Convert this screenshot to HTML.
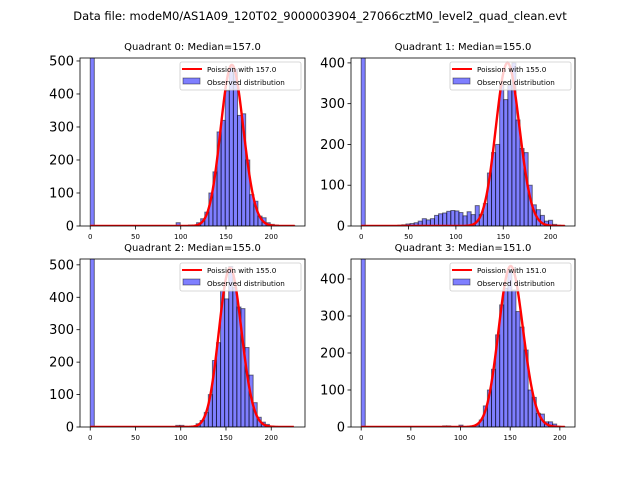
<!DOCTYPE html>
<html><head><meta charset="utf-8"><style>
html,body{margin:0;padding:0;background:#fff;}
svg{display:block;font-family:"DejaVu Sans","Liberation Sans",sans-serif;}
</style></head><body>
<svg id="fig" width="640" height="480" viewBox="0 0 640 480">
<text x="320" y="20" text-anchor="middle" font-size="11.5">Data file: modeM0/AS1A09_120T02_9000003904_27066cztM0_level2_quad_clean.evt</text>
</svg>
<script>
// ---- data ----
const medians = [157, 155, 155, 151];
const binWidths = [4.52, 4.3, 4.5, 4.1];
const curveTotals = [3391, 2903, 3398, 3268];
const yMaxes = [509, 412, 518, 454];
const xMins = [-11.3, -10.75, -11.3, -10.25];
const xMaxes = [237.3, 225.75, 237.3, 215.25];
const yTicks0 = [0,100,200,300,400,500];
const yTicks1 = [0,100,200,300,400];
const yTicks2 = [0,100,200,300,400,500];
const yTicks3 = [0,100,200,300,400];
const xTickVals = [0,50,100,150,200];
const counts0 = [2000,0,0,0,0,0,0,0,0,0,0,0,0,0,0,0,0,0,0,0,0,10,0,0,3,3,10,22,42,100,164,285,320,410,480,475,335,340,200,95,75,30,25,10,5,3,1,1,1,1];
const counts1 = [2000,0,0,0,0,0,0,0,1,2,3,5,6,8,12,18,15,18,26,30,32,36,38,37,33,25,35,28,50,28,55,130,180,200,345,310,345,400,260,190,180,100,52,40,26,12,14,4,2,1];
const counts2 = [2000,0,0,0,0,0,0,0,0,0,0,0,0,0,0,0,0,0,0,0,0,5,5,2,1,3,10,20,45,100,205,260,420,395,495,430,370,365,245,160,75,30,15,8,3,2,1,0,0,0];
const counts3 = [2000,0,0,0,0,0,0,0,0,0,0,0,0,0,0,0,0,0,0,0,3,3,0,0,5,0,0,0,5,19,57,100,156,249,330,375,420,370,312,270,208,100,80,37,35,14,14,8,2,1];
// ---- layout ----
const NS = "http://www.w3.org/2000/svg";
const svg = document.getElementById('fig');
const boxes = [[80,58,305,226],[351,58,575,226],[80,259,305,427],[351,259,575,427]];
const allCounts = [counts0, counts1, counts2, counts3];
const allYTicks = [yTicks0, yTicks1, yTicks2, yTicks3];
function mk(tag, attrs, parent){
  const e = document.createElementNS(NS, tag);
  for (const k in attrs) e.setAttribute(k, attrs[k]);
  (parent||svg).appendChild(e); return e;
}
function lnFact(k){
  if (k < 1) return 0;
  return k*Math.log(k) - k + 0.5*Math.log(2*Math.PI*k) + 1/(12*k);
}
for (let q=0;q<4;q++){
  const [L,T,R,B] = boxes[q];
  const xs = v => L + (v - xMins[q])/(xMaxes[q]-xMins[q])*(R-L);
  const ys = v => B - v/yMaxes[q]*(B-T);
  const g = mk('g', {});
  
  
  const clipId = 'clip'+q;
  const cp = mk('clipPath', {id: clipId}, g);
  mk('rect', {x:L, y:T, width:R-L, height:B-T}, cp);
  const plot = mk('g', {'clip-path':'url(#'+clipId+')'}, g);
  // bars
  const c = allCounts[q], W = binWidths[q];
  for (let k=0;k<c.length;k++){
    if (c[k] <= 0) continue;
    const x0 = xs(k*W), x1 = xs((k+1)*W);
    const r = mk('rect', {x:x0, y:ys(c[k]), width:x1-x0, height:B-ys(c[k]), fill:'rgba(0,0,255,0.5)', stroke:'rgba(0,0,0,0.5)', 'stroke-width':1}, plot);
    
    
  }
  // poisson curve
  const mu = medians[q], N = curveTotals[q], xEnd = c.length*W;
  let d = '';
  for (let i=0;i<=400;i++){
    const xv = i/400*xEnd;
    const p = N*W*Math.exp(xv*Math.log(mu) - mu - lnFact(xv));
    d += (i? 'L':'M') + xs(xv).toFixed(2) + ',' + ys(p).toFixed(2);
  }
  const pl = mk('path', {d:d, fill:'none', stroke:'#ff0000', 'stroke-width':2.4}, plot);
  
  
  // frame
  mk('rect', {x:L, y:T, width:R-L, height:B-T, fill:'none', stroke:'#000', 'stroke-width':0.8}, g);
  // title
  const t = mk('text', {x:(L+R)/2, y:T-8, 'text-anchor':'middle', 'font-size':'10'}, g);
  t.textContent = 'Quadrant '+q+': Median='+mu.toFixed(1);
  
  
  // y ticks
  for (const tv of allYTicks[q]){
    const y = ys(tv);
    mk('line', {x1:L-3.5, x2:L, y1:y, y2:y, stroke:'#000', 'stroke-width':0.8}, g);
    const tl = mk('text', {x:L-6, y:y+4.5, 'text-anchor':'end', 'font-size':'13'}, g);
    tl.textContent = tv;
    
    
  }
  // x ticks
  for (const tv of xTickVals){
    const x = xs(tv);
    mk('line', {x1:x, x2:x, y1:B, y2:B+3.5, stroke:'#000', 'stroke-width':0.8}, g);
    const tl = mk('text', {x:x, y:B+13, 'text-anchor':'middle', 'font-size':'7'}, g);
    tl.textContent = tv;
    
    
  }
  // legend
  const lg = mk('g', {}, g);
  
  
  const lx = R-125, ly = T+4;
  mk('rect', {x:lx, y:ly, width:121, height:28, rx:2, fill:'rgba(255,255,255,0.8)', stroke:'#ccc', 'stroke-width':0.8}, lg);
  mk('line', {x1:lx+2, x2:lx+22, y1:ly+7, y2:ly+7, stroke:'#ff0000', 'stroke-width':2}, lg);
  const t1 = mk('text', {x:lx+27, y:ly+10, 'font-size':'7.2'}, lg);
  t1.textContent = 'Poission with '+mu.toFixed(1);
  mk('rect', {x:lx+3, y:ly+16, width:17, height:6, fill:'rgba(0,0,255,0.5)', stroke:'rgba(0,0,0,0.5)', 'stroke-width':0.8}, lg);
  const t2 = mk('text', {x:lx+27, y:ly+23, 'font-size':'7.2'}, lg);
  t2.textContent = 'Observed distribution';
}
</script>
</body></html>
